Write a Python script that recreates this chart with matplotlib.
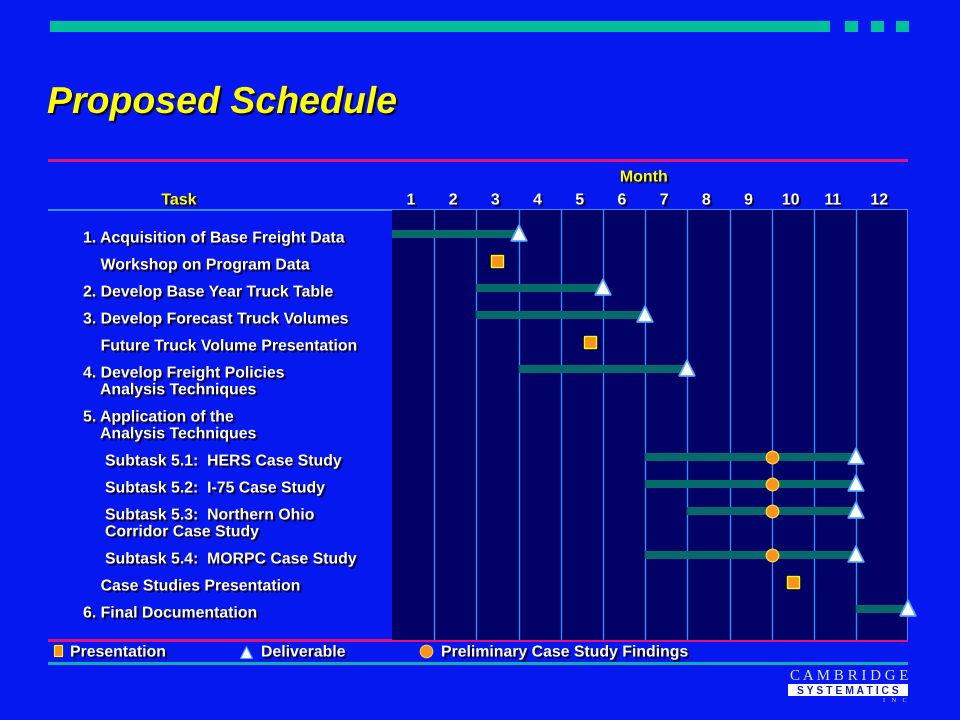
import matplotlib
matplotlib.use("Agg")
import matplotlib.pyplot as plt
import matplotlib.patheffects as pe
from matplotlib.patches import Rectangle
from matplotlib.transforms import ScaledTranslation

plt.rcParams['font.family'] = ['Liberation Sans', 'DejaVu Sans']

# --- schedule data (months, 0 = start of month 1) ---
task_labels = [
    "1. Acquisition of Base Freight Data",
    "    Workshop on Program Data",
    "2. Develop Base Year Truck Table",
    "3. Develop Forecast Truck Volumes",
    "    Future Truck Volume Presentation",
    "4. Develop Freight Policies\n    Analysis Techniques",
    "5. Application of the\n    Analysis Techniques",
    "     Subtask 5.1:  HERS Case Study",
    "     Subtask 5.2:  I-75 Case Study",
    "     Subtask 5.3:  Northern Ohio\n     Corridor Case Study",
    "     Subtask 5.4:  MORPC Case Study",
    "    Case Studies Presentation",
    "6. Final Documentation",
]
bar_start = [0, None, 2, 2, None, 3, None, 6, 6, 7, 6, None, 11]
bar_end = [3, None, 5, 6, None, 7, None, 11, 11, 11, 11, None, 12.23]
deliverable = [3, None, 5, 6, None, 7, None, 11, 11, 11, 11, None, 12.23]
presentation = [None, 2.5, None, None, 4.7, None, None, None, None, None, None, 9.5, None]
findings = [None, None, None, None, None, None, None, 9, 9, 9, 9, None, None]
months = [str(m) for m in range(1, 13)]

BLUE = '#0618F0'
NAVY = '#000066'
TEAL = '#046A6A'
GRID = '#3A8CFF'
ORANGE = '#F7941D'
YELLOW = '#FFFF00'
MAGENTA = '#E0127A'

shadow = [pe.withSimplePatchShadow(offset=(1.5, -1.5), shadow_rgbFace='#000030', alpha=0.9)]

fig = plt.figure(figsize=(9.6, 7.2), dpi=100)
fig.patch.set_facecolor(BLUE)

# full-slide axes in pixel coordinates for decorations and text
bg = fig.add_axes([0, 0, 1, 1])
bg.set_xlim(0, 960)
bg.set_ylim(720, 0)
bg.axis('off')

# top band and squares
bg.add_patch(Rectangle((50, 21), 780, 11, color='#00C09A', lw=0))
for x0 in (845, 871, 896):
    bg.add_patch(Rectangle((x0, 21), 13, 11, color='#00C09A', lw=0))

bg.text(47, 103, "Proposed Schedule", color=YELLOW, fontsize=27, fontweight='bold',
        fontstyle='italic', va='center', ha='left', path_effects=shadow)

# header lines
bg.add_patch(Rectangle((48, 159), 860, 3, color=MAGENTA, lw=0))
bg.add_patch(Rectangle((48, 209), 860, 2, color=GRID, lw=0))
bg.add_patch(Rectangle((48, 639), 860, 3, color=MAGENTA, lw=0))
bg.add_patch(Rectangle((48, 662), 860, 3, color='#10B0B0', lw=0))

bg.text(644, 177, "Month", color=YELLOW, fontsize=11.5, fontweight='bold',
        ha='center', va='center', path_effects=shadow)
bg.text(179, 200, "Task", color=YELLOW, fontsize=11.5, fontweight='bold',
        ha='center', va='center', path_effects=shadow)

# gantt axes over the grid area
ax = fig.add_axes([392 / 960, 80 / 720, 516 / 960, 430 / 720])
ax.set_facecolor(NAVY)
ax.set_xlim(0, 12.23)
ax.set_ylim(640, 210)
for s in ax.spines.values():
    s.set_visible(False)
ax.set_xticks([])
ax.set_yticks([])
for m in range(1, 12):
    ax.axvline(m, color=GRID, lw=1)
ax.axvline(12.23, color=GRID, lw=1.5)

centers = [i + 0.45 for i in range(11)] + [11.55]
for c, lab in zip(centers, months):
    ax.text(c, 200, lab, color='white', fontsize=11.5, fontweight='bold',
            ha='center', va='center', clip_on=False, path_effects=shadow)

# row positions (first text line), two-line labels take more room
y = 238.0
rows = []
for lab in task_labels:
    rows.append(y)
    y += 44 if "\n" in lab else 27

shift = bg.transData + ScaledTranslation(0, 7.5 / 100, fig.dpi_scale_trans)
for lab, yy in zip(task_labels, rows):
    bg.text(83, yy, lab, color='white', fontsize=11.4, fontweight='bold',
            ha='left', va='top', linespacing=1.15, transform=shift,
            path_effects=shadow)

mark_y = [yy - 4 for yy in rows]
for i, yy in enumerate(mark_y):
    if bar_start[i] is not None:
        ax.barh(yy, bar_end[i] - bar_start[i], left=bar_start[i], height=8,
                color=TEAL, lw=0, zorder=3)
for i, yy in enumerate(mark_y):
    if findings[i] is not None:
        ax.plot(findings[i], yy, 'o', ms=9, mfc=ORANGE, mec='#FFD040', mew=1, zorder=5)
    if deliverable[i] is not None:
        ax.plot(deliverable[i], yy - 1, '^', ms=11, mfc='white', mec='#4FA8FF', mew=1.2,
                zorder=6, clip_on=False)
    if presentation[i] is not None:
        ax.plot(presentation[i], yy, 's', ms=9, mfc=ORANGE, mec=YELLOW, mew=1, zorder=5)

# legend
bg.add_patch(Rectangle((54, 645), 8, 11, facecolor=ORANGE, edgecolor=YELLOW, lw=0.8))
bg.text(70, 652, "Presentation", color='white', fontsize=11.4, fontweight='bold',
        va='center', path_effects=shadow)
bg.plot(246, 652, '^', ms=9, mfc='white', mec='#4FA8FF', mew=0.8)
bg.text(261, 652, "Deliverable", color='white', fontsize=11.4, fontweight='bold',
        va='center', path_effects=shadow)
bg.plot(426, 651, 'o', ms=9, mfc=ORANGE, mec='#FFD040', mew=0.8)
bg.text(441, 652, "Preliminary Case Study Findings", color='white', fontsize=11.4,
        fontweight='bold', va='center', path_effects=shadow)

# logo
bg.text(908, 676, "C A M B R I D G E", color='#E8E8FF', fontsize=10.8, family='Liberation Serif',
        ha='right', va='center')
bg.add_patch(Rectangle((788, 684), 120, 12, color='white', lw=0))
bg.text(848, 690.5, "S Y S T E M A T I C S", color='#1020C0', fontsize=7.5, fontweight='bold',
        ha='center', va='center')
bg.text(907, 701, "I    N    C", color='#E8E8FF', fontsize=4.5, family='Liberation Serif',
        ha='right', va='center')

fig.savefig("out.png", dpi=100, facecolor=BLUE)
